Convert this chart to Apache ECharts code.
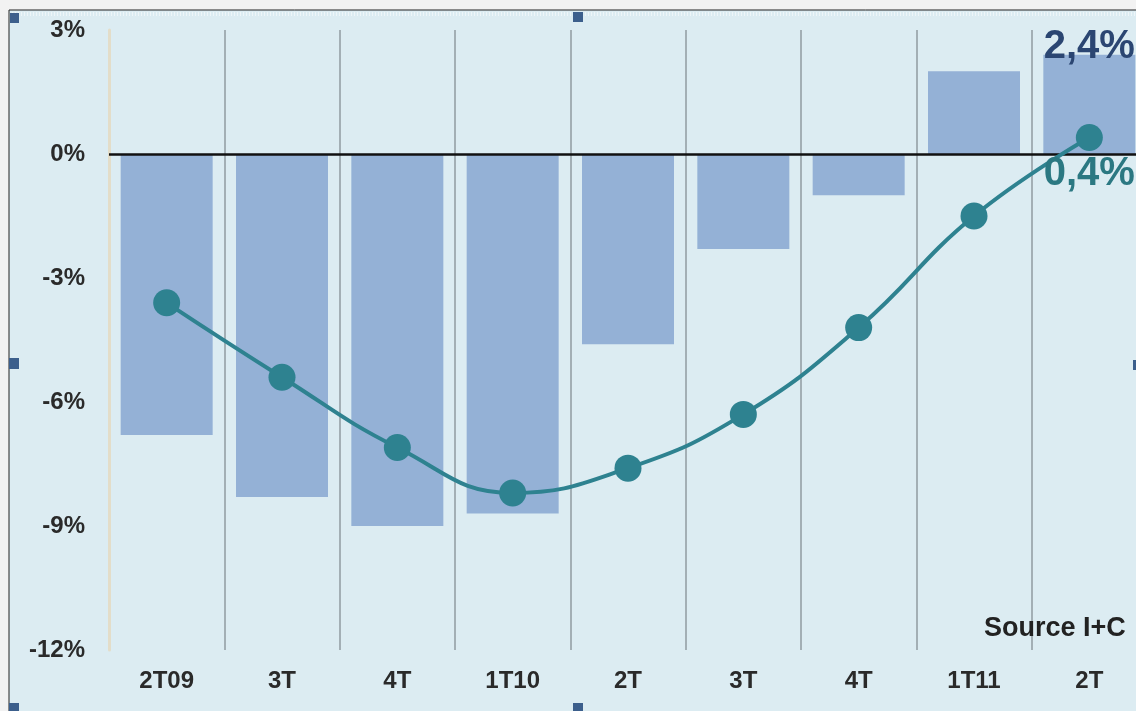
<!DOCTYPE html>
<html>
<head>
<meta charset="utf-8">
<script src="https://cdn.jsdelivr.net/npm/echarts@6/dist/echarts.min.js"></script>
<style>
html,body{margin:0;padding:0;background:#f2f2f2;overflow:hidden;width:1136px;height:711px;}
#c{width:1150px;height:711px;}
</style>
</head>
<body>
<div id="c"></div>
<script>
const categories = ['2T09','3T','4T','1T10','2T','3T','4T','1T11','2T'];
const barValues = [-6.8,-8.3,-9.0,-8.7,-4.6,-2.3,-1.0,2.0,2.4];
const lineValues = [-3.6,-5.4,-7.1,-8.2,-7.6,-6.3,-4.2,-1.5,0.4];
const yTicks = {min:-12, max:3, interval:3};
const sourceText = 'Source I+C';

const chart = echarts.init(document.getElementById('c'));
const last = categories.length - 1;
const fmt = v => String(v.toFixed(1)).replace('.', ',') + '%';
const FONT = 'Liberation Sans, Arial, sans-serif';

chart.setOption({
  backgroundColor: '#f2f2f2',
  animation: false,
  grid: {left: 109, top: 30, right: 3, height: 620, containLabel: false},
  xAxis: {
    type: 'category',
    data: categories,
    axisLine: {show: false},
    axisTick: {show: false},
    splitLine: {show: true, lineStyle: {color: '#a3afb5', width: 2}},
    axisLabel: {color: '#2a2a2a', fontWeight: 'bold', fontSize: 24, fontFamily: FONT, margin: 19}
  },
  yAxis: {
    type: 'value',
    min: yTicks.min, max: yTicks.max, interval: yTicks.interval,
    axisLine: {show: true, lineStyle: {color: '#e3ddc9', width: 3}},
    axisTick: {show: false},
    splitLine: {show: false},
    axisLabel: {color: '#2a2a2a', fontWeight: 'bold', fontSize: 24, fontFamily: FONT, margin: 24,
      formatter: v => v + '%'}
  },
  graphic: [
    {type: 'rect', z: -10, shape: {x: 9, y: 10, width: 1150, height: 705}, style: {fill: '#dcecf2', stroke: '#222', lineWidth: 1}},
    {type: 'rect', z: -9, shape: {x: 12, y: 13, width: 1150, height: 2}, style: {fill: 'none', stroke: '#ffffff', lineWidth: 1, lineDash: [1, 2]}},
    {type: 'rect', z: 100, shape: {x: 10, y: 13, width: 9, height: 10}, style: {fill: '#3c5f8c'}},
    {type: 'rect', z: 100, shape: {x: 573, y: 12, width: 10, height: 10}, style: {fill: '#3c5f8c'}},
    {type: 'rect', z: 100, shape: {x: 9, y: 358, width: 10, height: 11}, style: {fill: '#3c5f8c'}},
    {type: 'rect', z: 100, shape: {x: 1133, y: 360, width: 4, height: 10}, style: {fill: '#3c5f8c'}},
    {type: 'rect', z: 100, shape: {x: 9, y: 703, width: 10, height: 8}, style: {fill: '#3c5f8c'}},
    {type: 'rect', z: 100, shape: {x: 573, y: 703, width: 10, height: 8}, style: {fill: '#3c5f8c'}},
    {type: 'text', z: 100, left: 984, top: 615, style: {text: sourceText, fill: '#222', font: 'bold 27px Liberation Sans, Arial, sans-serif'}}
  ],
  series: [
    {
      type: 'bar',
      data: barValues,
      barWidth: 92,
      itemStyle: {color: '#94b1d6'},
      z: 2,
      label: {
        show: true, position: 'top', distance: -12,
        color: '#2b4672', fontSize: 40, fontWeight: 'bold', fontFamily: FONT,
        formatter: p => p.dataIndex === last ? fmt(p.value) : ''
      },
      markLine: {
        silent: true, symbol: 'none', label: {show: false},
        lineStyle: {color: '#111', width: 2.5, type: 'solid'},
        data: [{yAxis: 0}], z: 3
      }
    },
    {
      type: 'line',
      data: lineValues,
      smooth: 0.45,
      symbol: 'circle',
      symbolSize: 27,
      z: 5,
      lineStyle: {color: '#2e8290', width: 4},
      itemStyle: {color: '#2e8290'},
      label: {
        show: true, position: 'bottom', distance: 3,
        color: '#2b7882', fontSize: 40, fontWeight: 'bold', fontFamily: FONT,
        formatter: p => p.dataIndex === last ? fmt(p.value) : ''
      }
    }
  ]
});
</script>
</body>
</html>
